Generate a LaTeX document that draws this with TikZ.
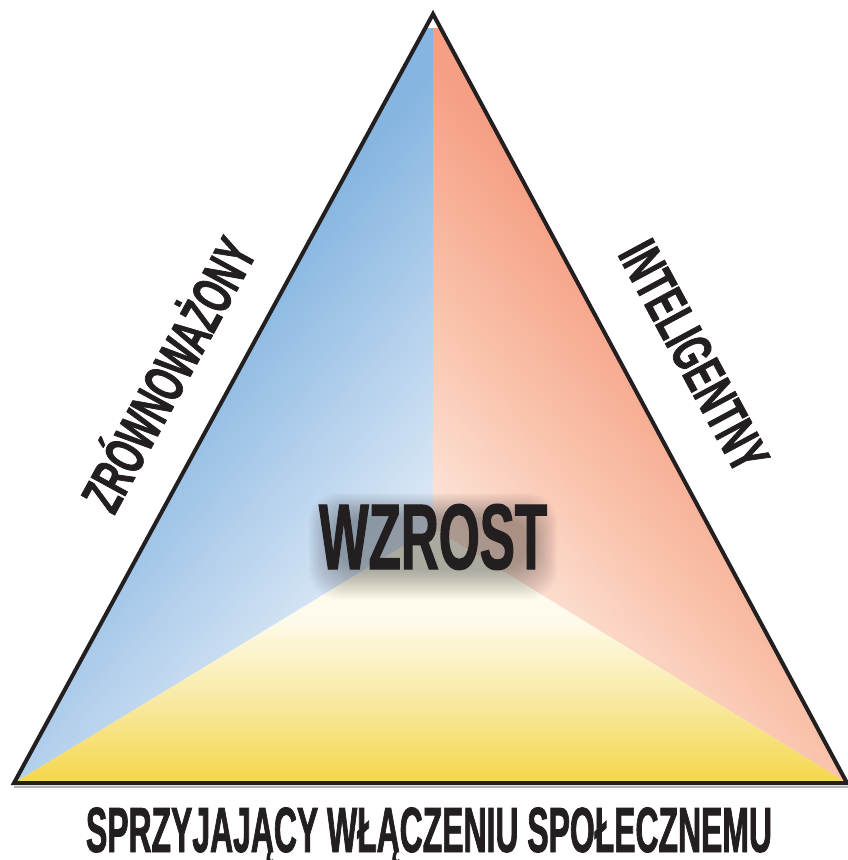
\documentclass[tikz,border=0pt]{standalone}
\usepackage{fontspec}
\usepackage{graphicx}
\newfontfamily\cf{Liberation Sans}[FakeStretch=0.55,BoldFeatures={FakeBold=1.2}]
\newcommand\fitbox[3]{\resizebox{#1}{#2}{\cf\bfseries\smash{#3}\vphantom{H}}}
\definecolor{bD}{HTML}{85B5E0}
\definecolor{bM}{HTML}{B3D0EC}
\definecolor{bL}{HTML}{E0EBF7}
\definecolor{rD}{HTML}{F5A084}
\definecolor{rM}{HTML}{F9C2AB}
\definecolor{rL}{HTML}{FDE7DC}
\definecolor{yD}{HTML}{F5D850}
\definecolor{yM}{HTML}{F8E9A2}
\definecolor{yL}{HTML}{FEFBEC}
\definecolor{ink}{HTML}{231F20}
\pgfdeclareverticalshading{blueS}{100bp}{color(0bp)=(bD); color(35bp)=(bD); color(42.5bp)=(bM); color(50bp)=(bL); color(100bp)=(bL)}
\pgfdeclareverticalshading{redS}{100bp}{color(0bp)=(rD); color(35bp)=(rD); color(42.5bp)=(rM); color(50bp)=(rL); color(100bp)=(rL)}
\pgfdeclareverticalshading{yelS}{100bp}{color(0bp)=(yD); color(37.5bp)=(yD); color(41.4bp)=(yM); color(45.5bp)=(yL); color(100bp)=(yL)}
\tikzset{
  lbl/.style={inner sep=0pt, anchor=base, text=ink},
  frame/.style={line width=3pt, draw=ink, line join=miter},
  glow/.style={fill=black, opacity=0.016, rounded corners=22},
}
\begin{document}
\begin{tikzpicture}[x=0.75pt,y=-0.75pt]
\fill[white] (0,0) rectangle (848,860);
\useasboundingbox (0,0) rectangle (848,860);
\coordinate (A) at (433,14);
\coordinate (L) at (14,783);
\coordinate (R) at (847,783);
\coordinate (C) at (433,528);
% blue region
\begin{scope}
  \clip (A) -- (L) -- (C) -- cycle;
  \shade[shading=blueS, shading angle=-130.5] (-67,28) rectangle (933,1028);
\end{scope}
% red region
\begin{scope}
  \clip (A) -- (R) -- (C) -- cycle;
  \shade[shading=redS, shading angle=130.5] (-67,28) rectangle (933,1028);
\end{scope}
% yellow region
\begin{scope}
  \clip (L) -- (R) -- (C) -- cycle;
  \shade[shading=yelS] (-67,28) rectangle (933,1028);
\end{scope}
% frame
\draw[line width=1.5pt, gray!60] (14,787) -- (848,787);
\draw[frame] (A) -- (L) -- (R) -- cycle;
% soft shadow behind the central word
\foreach \i in {0,...,21}{
  \fill[glow] ({336-1.3*\i},{518-1.2*\i}) rectangle ({530+1.3*\i},{570+1.4*\i});
}
\node[lbl] (wz) at (433,569) {\fitbox{171pt}{48pt}{WZROST}};
% side labels
\node[lbl, rotate=61.4] (zr) at (186.1,384.3) {\fitbox{225pt}{29.25pt}{ZRÓWNOWAŻONY}};
\node[lbl, rotate=-61.7] (in) at (676.8,365.2) {\fitbox{189pt}{29.25pt}{INTELIGENTNY}};
% bottom label
\node[lbl] (sp) at (429,852) {\fitbox{514.5pt}{33pt}{SPRZYJAJĄCY WŁĄCZENIU SPOŁECZNEMU}};
\end{tikzpicture}
\end{document}
